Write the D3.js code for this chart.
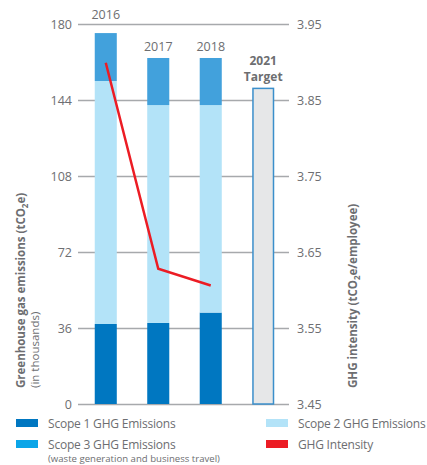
<!DOCTYPE html>
<html>
<head>
<meta charset="utf-8">
<script src="https://cdn.jsdelivr.net/npm/d3@7"></script>
<style>
  body { margin: 0; background: #fff; }
  svg text { font-family: "Open Sans", "Noto Sans", sans-serif; fill: #6d6e71; }
</style>
</head>
<body>
<div id="chart"></div>
<script>
// Data
const years = ["2016", "2017", "2018", "2021"];
const scope1 = [37.9, 38.4, 43.3, 0];
const scope2 = [115.1, 103.2, 98.3, 0];
const scope3 = [22.7, 22.3, 22.3, 0];
const target = [0, 0, 0, 149.5];
const intensityYears = ["2016", "2017", "2018"];
const intensity = [3.899, 3.628, 3.606];
const leftTicks = [0, 36, 72, 108, 144, 180];
const rightTicks = [3.45, 3.55, 3.65, 3.75, 3.85, 3.95];

const width = 427;
const height = 465;
const margin = { top: 24, right: 138, bottom: 61, left: 78 };

const svg = d3.select("#chart")
    .append("svg")
    .attr("width", width)
    .attr("height", height);

// Scales
const x = d3.scaleBand()
    .domain(years)
    .range([margin.left + 1, width - margin.right + 1])
    .paddingInner(0.58)
    .paddingOuter(0.3);

const y = d3.scaleLinear()
    .domain([0, 180])
    .range([height - margin.bottom, margin.top]);

const y2 = d3.scaleLinear()
    .domain([3.45, 3.95])
    .range([height - margin.bottom, margin.top]);

// Gridlines (left axis)
const leftAxis = svg.append("g")
    .attr("transform", `translate(${margin.left}, 0)`)
    .call(d3.axisLeft(y).tickValues(leftTicks).tickSize(-(width - margin.left - margin.right)).tickPadding(6));
leftAxis.select(".domain").remove();
leftAxis.selectAll("line").attr("stroke", "#a7a9ac").attr("stroke-width", 1.5);
leftAxis.selectAll("text").attr("font-size", 12.5).attr("fill", "#6d6e71");

// Right axis labels
const rightAxis = svg.append("g")
    .attr("transform", `translate(${width - margin.right}, 0)`)
    .call(d3.axisRight(y2).tickValues(rightTicks).tickFormat(d3.format(".2f")).tickSize(0).tickPadding(8));
rightAxis.select(".domain").remove();
rightAxis.selectAll("text").attr("font-size", 12.5).attr("fill", "#6d6e71");

// Stacked bars
const rows = years.map((yr, i) => ({ year: yr, s1: scope1[i], s2: scope2[i], s3: scope3[i] }));
const stack = d3.stack().keys(["s1", "s2", "s3"])(rows);
const colors = { s1: "#0077c1", s2: "#b3e3f8", s3: "#42a1dc" };

svg.append("g")
    .selectAll("g")
    .data(stack)
    .join("g")
    .attr("fill", d => colors[d.key])
    .selectAll("rect")
    .data(d => d.filter(p => p[1] > p[0]))
    .join("rect")
    .attr("x", d => x(d.data.year))
    .attr("y", d => y(d[1]))
    .attr("width", x.bandwidth())
    .attr("height", d => y(d[0]) - y(d[1]));

// Target bar
svg.append("g")
    .selectAll("rect")
    .data(years.map((yr, i) => ({ year: yr, v: target[i] })).filter(d => d.v > 0))
    .join("rect")
    .attr("x", d => x(d.year) + 0.75)
    .attr("y", d => y(d.v))
    .attr("width", x.bandwidth() - 1.5)
    .attr("height", d => y(0) - y(d.v))
    .attr("fill", "#e6e7e8")
    .attr("stroke", "#3b8fcb")
    .attr("stroke-width", 1.5);

// Year labels above bars
const totals = years.map((yr, i) => scope1[i] + scope2[i] + scope3[i] + target[i]);
years.forEach((yr, i) => {
    const cx = x(yr) + x.bandwidth() / 2;
    let top = y(totals[i]) - 7;
    if (top < y(180) + 14) top = y(180) - 5;
    if (yr === "2021") {
        svg.append("text").attr("x", cx).attr("y", top - 16).attr("text-anchor", "middle")
            .attr("font-size", 12).attr("font-weight", "bold").text("2021");
        svg.append("text").attr("x", cx).attr("y", top).attr("text-anchor", "middle")
            .attr("font-size", 12).attr("font-weight", "bold").text("Target");
    } else {
        svg.append("text").attr("x", cx).attr("y", top).attr("text-anchor", "middle")
            .attr("font-size", 12.5).text(yr);
    }
});

// Intensity line
const line = d3.line()
    .x((d, i) => x(intensityYears[i]) + x.bandwidth() / 2)
    .y(d => y2(d));

svg.append("path")
    .datum(intensity)
    .attr("fill", "none")
    .attr("stroke", "#ec1c24")
    .attr("stroke-width", 2.5)
    .attr("d", line);

// Axis titles
const leftTitle = svg.append("text")
    .attr("transform", `translate(25, ${height - margin.bottom - 16}) rotate(-90)`)
    .attr("font-size", 11.5)
    .attr("font-weight", "bold");
leftTitle.append("tspan").text("Greenhouse gas emissions (tCO");
leftTitle.append("tspan").attr("font-size", 8).attr("dy", 3).text("2");
leftTitle.append("tspan").attr("dy", -3).text("e)");

svg.append("text")
    .attr("transform", `translate(39, ${height - margin.bottom - 16}) rotate(-90)`)
    .attr("font-size", 11.5)
    .text("(in thousands)");

const rightTitle = svg.append("text")
    .attr("transform", `translate(357, ${height - margin.bottom - 16}) rotate(-90)`)
    .attr("font-size", 11.5)
    .attr("font-weight", "bold");
rightTitle.append("tspan").text("GHG intensity (tCO");
rightTitle.append("tspan").attr("font-size", 8).attr("dy", 3).text("2");
rightTitle.append("tspan").attr("dy", -3).text("e/employee)");

// Legend
const legendItems = [
    { label: "Scope 1 GHG Emissions", color: "#0077c1", x: 16, y: 423 },
    { label: "Scope 2 GHG Emissions", color: "#b3e3f8", x: 266, y: 423 },
    { label: "Scope 3 GHG Emissions", color: "#0ba5e8", x: 16, y: 444 },
    { label: "GHG Intensity", color: "#ec1c24", x: 266, y: 444 }
];
const legend = svg.append("g").selectAll("g").data(legendItems).join("g")
    .attr("transform", d => `translate(${d.x}, ${d.y})`);
legend.append("rect").attr("x", 0).attr("y", -4).attr("width", 22).attr("height", 8).attr("fill", d => d.color);
legend.append("text").attr("x", 32).attr("y", 4.5).attr("font-size", 12)
    .attr("letter-spacing", -0.2).text(d => d.label);

svg.append("text")
    .attr("x", 48).attr("y", 462)
    .attr("font-size", 9.6)
    .text("(waste generation and business travel)");
</script>
</body>
</html>
